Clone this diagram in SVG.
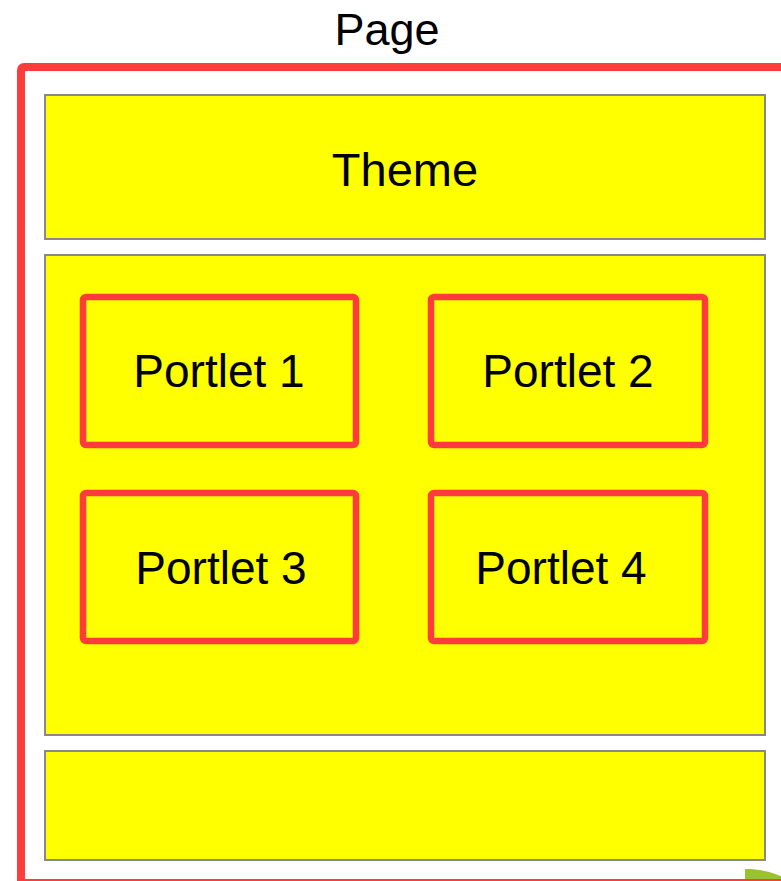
<svg xmlns="http://www.w3.org/2000/svg" width="781" height="881" viewBox="0 0 781 881">
<style>
.t{font-family:"Liberation Sans",Arial,sans-serif;fill:#000;text-anchor:middle}
.box{fill:#ffff00;stroke:#888888;stroke-width:2}
.portlet{fill:#ffff00;stroke:#ff3b3b;stroke-width:6.5}
</style>
<rect width="781" height="881" fill="#ffffff"/>
<g id="page">
<rect x="21" y="67" width="790" height="816" rx="3" fill="none" stroke="#ff3b3b" stroke-width="8"/>
<text class="t" x="387" y="45" font-size="45">Page</text>
</g>
<g id="theme">
<rect class="box" x="45" y="95" width="720" height="144"/>
<text class="t" x="405" y="186" font-size="47">Theme</text>
</g>
<g id="body">
<rect class="box" x="45" y="255" width="720" height="480"/>
</g>
<g id="footer">
<rect class="box" x="45" y="751" width="720" height="109"/>
</g>
<g id="portlet1">
<rect class="portlet" x="83" y="297" width="273" height="148" rx="3"/>
<text class="t" x="219" y="387" font-size="46">Portlet 1</text>
</g>
<g id="portlet2">
<rect class="portlet" x="431" y="297" width="274" height="148" rx="3"/>
<text class="t" x="568" y="387" font-size="46">Portlet 2</text>
</g>
<g id="portlet3">
<rect class="portlet" x="83" y="493" width="273" height="148" rx="3"/>
<text class="t" x="221" y="584" font-size="46">Portlet 3</text>
</g>
<g id="portlet4">
<rect class="portlet" x="431" y="493" width="274" height="148" rx="3"/>
<text class="t" x="561" y="584" font-size="46">Portlet 4</text>
</g>
<g id="connectors"></g>
<path d="M745 879 V869 C760 869 774 872 786 879 Z" fill="#99c130"/>
</svg>
